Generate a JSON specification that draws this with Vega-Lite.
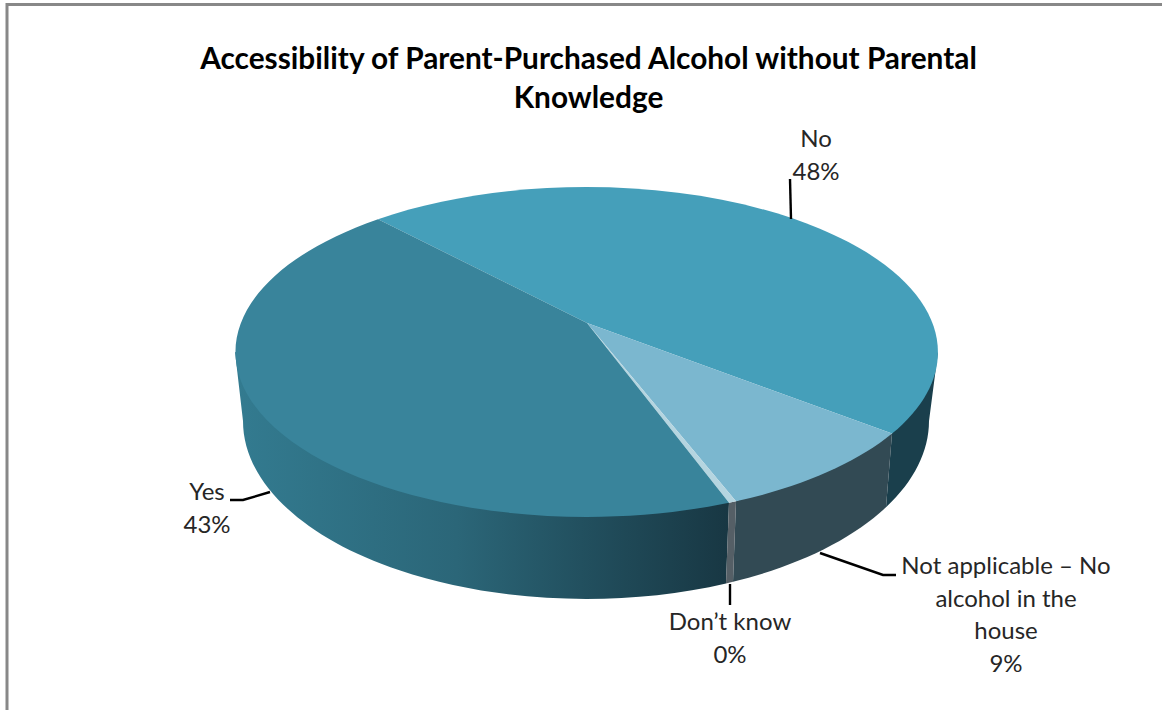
{
"$schema":"https://vega.github.io/schema/vega-lite/v6.json",
"width":1162,"height":710,"padding":0,"autosize":{"type":"none"},"background":"white",
"title":{"text":["Accessibility of Parent-Purchased Alcohol without Parental","Knowledge"],"font":"Lato","fontWeight":"bold","fontSize":29.8,"lineHeight":39,"color":"#000000","anchor":"middle","dx":7.5,"offset":-139,"baseline":"alphabetic"},
"data":{"values":[
{"category":"No","share":48,"label":"No\n48%"},
{"category":"Not applicable","share":9,"label":"Not applicable – No\nalcohol in the\nhouse\n9%"},
{"category":"Don't know","share":0,"label":"Don’t know\n0%"},
{"category":"Yes","share":43,"label":"Yes\n43%"}
]},
"config":{"view":{"stroke":null},"text":{"font":"Lato","fontSize":24,"lineHeight":32.5,"lineBreak":"\n","color":"#262626","align":"center"}},
"resolve":{"scale":{"shape":"independent","color":"independent"}},
"layer":[
{"data":{"values":[{"part":"frame"}]},"mark":{"type":"point","shape":"M-574,355L-574,-350.5L581,-350.5","size":4,"filled":false,"stroke":"#888888","strokeWidth":3,"opacity":1}},
{"transform":[{"filter":"datum.category==='Yes'"}],
 "mark":{"type":"point","size":4,"filled":true,"opacity":1,"strokeWidth":0,"shape":"M-346,-3L148,147.8L145,228.5A343,178 0 0 1 -338,66Z",
 "fill":{"gradient":"linear","x1":0,"y1":0,"x2":1,"y2":0,"stops":[{"offset":0,"color":"#337b90"},{"offset":0.45,"color":"#2b6678"},{"offset":0.7,"color":"#22505f"},{"offset":1,"color":"#183743"}]}}},
{"transform":[{"filter":"datum.category!=='Yes'"}],
 "mark":{"type":"point","size":4,"filled":true,"opacity":1,"strokeWidth":0},
 "encoding":{
  "shape":{"field":"category","type":"nominal","legend":null,"scale":{"domain":["No","Not applicable","Don't know"],"range":["M311,78.6L357,-3L348,66A343,178 0 0 1 305,152.3Z","M155,146.3L311,78.6L305,152.3A343,178 0 0 1 152,226.8Z","M148,147.8L155,146.3L152,226.8L145,228.5Z"]}},
  "color":{"field":"category","type":"nominal","legend":null,"scale":{"domain":["No","Not applicable","Don't know"],"range":["#1a3f4c","#324a54","#555f66"]}}}},
{"mark":{"type":"point","size":4,"filled":true,"opacity":1,"strokeWidth":0},
 "encoding":{
  "shape":{"field":"category","type":"nominal","legend":null,"scale":{"domain":["No","Not applicable","Don't know","Yes"],"range":["M6,-32L-203,-135.8A351.5,165 0 0 1 311,78.6Z","M6,-32L311,78.6A351.5,165 0 0 1 155,146.3Z","M6,-32L155,146.3A351.5,165 0 0 1 148,147.8Z","M6,-32L148,147.8A351.5,165 0 0 1 -203,-135.8Z"]}},
  "color":{"field":"category","type":"nominal","legend":null,"scale":{"domain":["No","Not applicable","Don't know","Yes"],"range":["#459fba","#7bb7cf","#b5d5e0","#39849b"]}}}},
{"mark":{"type":"point","size":4,"filled":false,"opacity":1,"stroke":"#000000","strokeWidth":2.4},
 "encoding":{
  "shape":{"field":"category","type":"nominal","legend":null,"scale":{"domain":["No","Not applicable","Don't know","Yes"],"range":["M210,-136L209,-176","M239,198L302,220L315,220","M149,229L149,250","M-351,145L-338,145L-311,137"]}}}},
{"transform":[{"filter":"datum.category==='No'"}],"mark":{"type":"text","dx":235,"dy":-208,"baseline":"alphabetic"},"encoding":{"text":{"field":"label"}}},
{"transform":[{"filter":"datum.category==='Yes'"}],"mark":{"type":"text","dx":-374,"dy":145,"baseline":"alphabetic"},"encoding":{"text":{"field":"label"}}},
{"transform":[{"filter":"datum.category==='Don\\'t know'"}],"mark":{"type":"text","dx":149,"dy":275,"baseline":"alphabetic"},"encoding":{"text":{"field":"label"}}},
{"transform":[{"filter":"datum.category==='Not applicable'"}],"mark":{"type":"text","dx":425,"dy":219,"baseline":"alphabetic"},"encoding":{"text":{"field":"label"}}}
]
}
